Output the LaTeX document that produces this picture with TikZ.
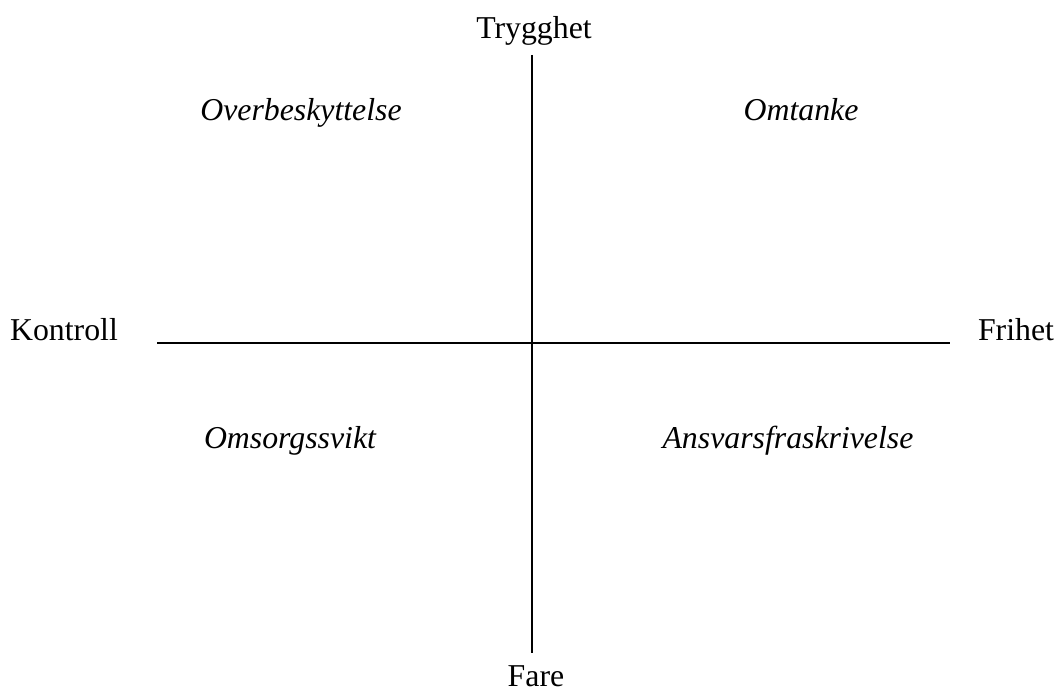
\documentclass[tikz,border=0pt]{standalone}
\usepackage{fontspec}
\setmainfont{Liberation Serif}
\usetikzlibrary{positioning}

\tikzset{
  axislabel/.style={font=\fontsize{12}{14}\selectfont, anchor=base, inner sep=0pt},
  quadlabel/.style={font=\fontsize{12}{14}\selectfont\itshape, anchor=base, inner sep=0pt},
  axis/.style={line width=0.6pt, black}
}

\begin{document}
\begin{tikzpicture}[x=0.01326cm, y=-0.01326cm]
            \useasboundingbox (0,0) rectangle (1062,693);
            % axes
            \coordinate (top) at (532,55);
            \coordinate (bottom) at (532,653);
            \coordinate (left) at (157,343);
            \coordinate (right) at (950,343);
            \draw[axis] (top) -- (bottom);
            \draw[axis] (left) -- (right);
            % axis ends
            \node[axislabel] (trygghet) at (534,39) {Trygghet};
            \node[axislabel] (fare) at (536,687) {Fare};
            \node[axislabel] (kontroll) at (64,341) {Kontroll};
            \node[axislabel] (frihet) at (1016,341) {Frihet};
            % quadrants
            \node[quadlabel] (overbeskyttelse) at (301,121) {Overbeskyttelse};
            \node[quadlabel] (omtanke) at (801,121) {Omtanke};
            \node[quadlabel] (omsorgssvikt) at (290,449) {Omsorgssvikt};
            \node[quadlabel] (ansvar) at (788,449) {Ansvarsfraskrivelse};
\end{tikzpicture}
\end{document}
